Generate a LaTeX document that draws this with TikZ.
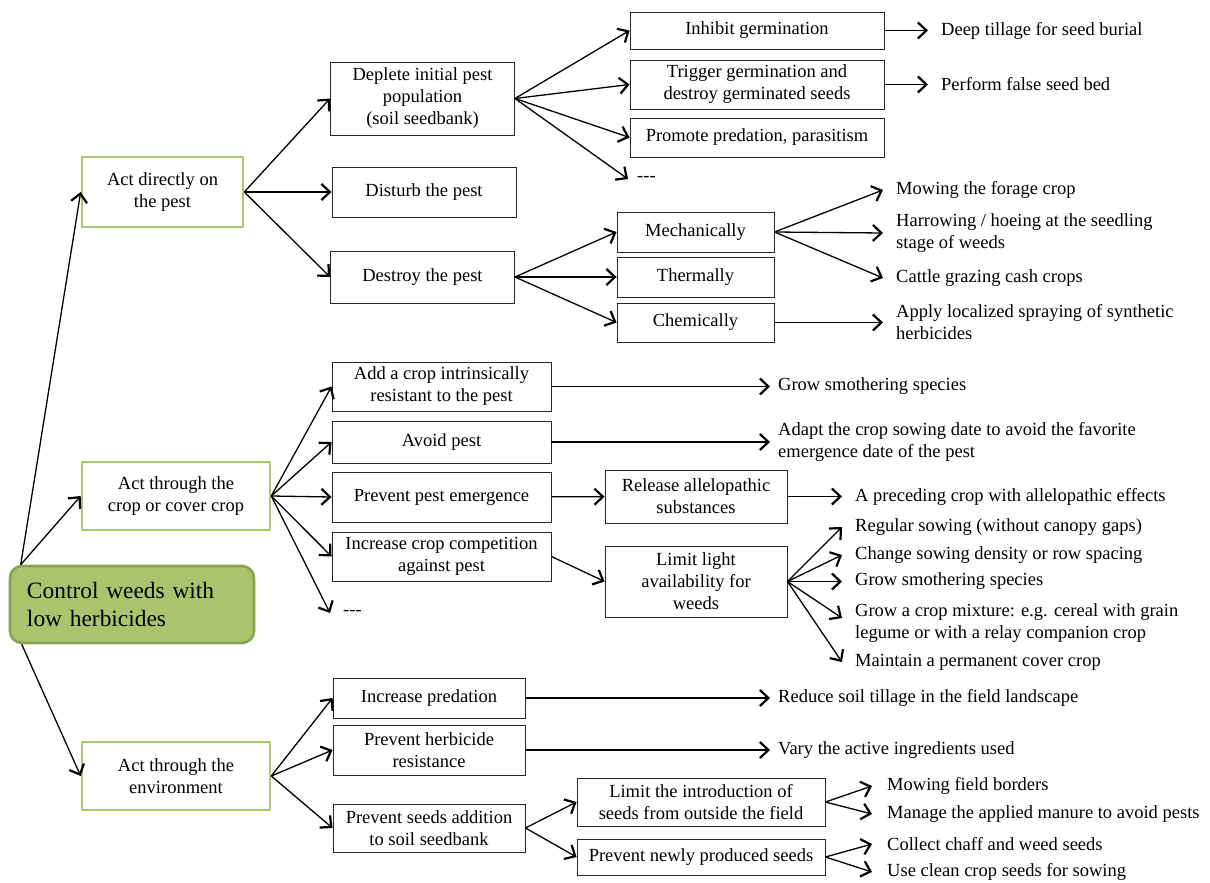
\documentclass[tikz,border=0pt]{standalone}
\usepackage{fontspec}
\setmainfont{Liberation Serif}
\usetikzlibrary{arrows.meta, positioning}
\definecolor{LeafFill}{RGB}{170,196,110}
\definecolor{LeafEdge}{RGB}{138,162,84}
\definecolor{LeafLine}{RGB}{172,200,112}

\begin{document}
\begin{tikzpicture}[
        x=1pt, y=-1pt,
        box/.style={
            rectangle,
            draw=black!85,
            line width=0.9pt,
            align=center,
            inner sep=2pt,
            font=\fontsize{18.5}{22}\selectfont
        },
        actbox/.style={
            box,
            draw=LeafLine,
            line width=2.6pt
        },
        rootbox/.style={
            rectangle,
            rounded corners=12pt,
            fill=LeafFill,
            draw=LeafEdge,
            line width=2.6pt,
            align=left,
            text width=210pt,
            inner xsep=17pt,
            minimum height=77pt,
            font=\fontsize{23.4}{28}\selectfont
        },
        leaf/.style={
            anchor=west,
            align=left,
            inner xsep=13pt,
            inner ysep=0pt,
            font=\fontsize{18.5}{22}\selectfont
        },
        arrow/.style={
            -{Straight Barb[length=8.5pt,width=16pt,line width=2.2pt]},
            line width=1.3pt
        }
    ]
        \useasboundingbox (0,0) rectangle (1210,883);

        % Root and main levers
        \node[rootbox] (root) at (132,604.5) {Control weeds with\\low herbicides};
        \node[actbox, minimum width=161pt, minimum height=70pt] (direct) at (162.5,192) {Act directly on\\the pest};
        \node[actbox, minimum width=188pt, minimum height=68pt] (crop) at (176,496) {Act through the\\crop or cover crop};
        \node[actbox, minimum width=188pt, minimum height=68pt] (env) at (176,776) {Act through the\\environment};

        % Act directly on the pest
        \node[box, minimum width=184pt, minimum height=73pt] (deplete) at (422.5,98.5) {Deplete initial pest\\population\\(soil seedbank)};
        \node[box, minimum width=184pt, minimum height=50pt] (disturb) at (424,192) {Disturb the pest};
        \node[box, minimum width=184pt, minimum height=52pt] (destroy) at (422.5,277) {Destroy the pest};

        \node[box, minimum width=254pt, minimum height=37pt] (inhibit) at (757,30.5) {Inhibit germination};
        \node[box, minimum width=254pt, minimum height=49pt] (trigger) at (757,84.5) {Trigger germination and\\destroy germinated seeds};
        \node[box, minimum width=254pt, minimum height=39pt] (predation) at (757,137.5) {Promote predation, parasitism};
        \node[leaf, inner xsep=9pt] (moreA) at (628,179) {-{}-{}-};
        \node[leaf] (tillage) at (928,30.5) {Deep tillage for seed burial};
        \node[leaf] (falsebed) at (928,84.5) {Perform false seed bed};

        \node[box, minimum width=157pt, minimum height=40pt] (mech) at (695.5,232) {Mechanically};
        \node[box, minimum width=157pt, minimum height=40pt] (therm) at (695.5,277) {Thermally};
        \node[box, minimum width=157pt, minimum height=39pt] (chem) at (695.5,322.5) {Chemically};
        \node[leaf] (mowing) at (883,190) {Mowing the forage crop};
        \node[leaf] (harrow) at (883,233) {Harrowing / hoeing at the seedling\\stage of weeds};
        \node[leaf] (cattle) at (883,278) {Cattle grazing cash crops};
        \node[leaf] (spray) at (883,322.5) {Apply localized spraying of synthetic\\herbicides};

        % Act through the crop or cover crop
        \node[box, minimum width=219pt, minimum height=49pt] (resist) at (441.5,386.5) {Add a crop intrinsically\\resistant to the pest};
        \node[box, minimum width=219pt, minimum height=42pt] (avoid) at (441.5,442) {Avoid pest};
        \node[box, minimum width=219pt, minimum height=50pt] (emerge) at (441.5,497) {Prevent pest emergence};
        \node[box, minimum width=219pt, minimum height=49pt] (compete) at (441.5,556.5) {Increase crop competition\\against pest};
        \node[leaf] (moreB) at (330,613) {-{}-{}-};
        \node[leaf, inner xsep=8pt] (smother) at (770,386.5) {Grow smothering species};
        \node[leaf, inner xsep=8pt] (sowdate) at (770,442) {Adapt the crop sowing date to avoid the favorite\\emergence date of the pest};

        \node[box, minimum width=182pt, minimum height=53pt] (allelo) at (696,496.5) {Release allelopathic\\substances};
        \node[box, minimum width=182pt, minimum height=71pt] (light) at (696,581.5) {Limit light\\availability for\\weeds};
        \node[leaf] (preceding) at (842,496.5) {A preceding crop with allelopathic effects};
        \node[leaf] (regular) at (842,527) {Regular sowing (without canopy gaps)};
        \node[leaf] (density) at (842,555) {Change sowing density or row spacing};
        \node[leaf] (smothertwo) at (842,581.5) {Grow smothering species};
        \node[leaf] (mixture) at (842,623) {Grow a crop mixture: e.g. cereal with grain\\legume or with a relay companion crop};
        \node[leaf] (cover) at (842,662) {Maintain a permanent cover crop};

        % Act through the environment
        \node[box, minimum width=192pt, minimum height=40pt] (increase) at (429,698) {Increase predation};
        \node[box, minimum width=192pt, minimum height=50pt] (herbres) at (429,750) {Prevent herbicide\\resistance};
        \node[box, minimum width=192pt, minimum height=48pt] (seeds) at (429,828) {Prevent seeds addition\\to soil seedbank};
        \node[leaf, inner xsep=8pt] (lowtill) at (770,698) {Reduce soil tillage in the field landscape};
        \node[leaf, inner xsep=8pt] (ingred) at (770,750) {Vary the active ingredients used};

        \node[box, minimum width=248pt, minimum height=48pt] (outside) at (701,802) {Limit the introduction of\\seeds from outside the field};
        \node[box, minimum width=248pt, minimum height=36pt] (newseeds) at (701,857) {Prevent newly produced seeds};
        \node[leaf, inner xsep=15pt] (borders) at (872,786) {Mowing field borders};
        \node[leaf, inner xsep=15pt] (manure) at (872,814) {Manage the applied manure to avoid pests};
        \node[leaf, inner xsep=15pt] (chaff) at (872,844) {Collect chaff and weed seeds};
        \node[leaf, inner xsep=15pt] (clean) at (872,872) {Use clean crop seeds for sowing};

        % Paths
        \draw[arrow] ([xshift=12pt]root.north west) -- (direct.west);
        \draw[arrow] ([xshift=12pt]root.north west) -- (crop.west);
        \draw[arrow] ([xshift=13pt]root.south west) -- (env.west);

        \draw[arrow] (direct.east) -- (deplete.west);
        \draw[arrow] (direct.east) -- (disturb.west);
        \draw[arrow] (direct.east) -- (destroy.west);
        \draw[arrow] (deplete.east) -- (inhibit.west);
        \draw[arrow] (deplete.east) -- (trigger.west);
        \draw[arrow] (deplete.east) -- (predation.west);
        \draw[arrow] (deplete.east) -- (moreA.west);
        \draw[arrow] (inhibit) -- (tillage);
        \draw[arrow] (trigger) -- (falsebed);
        \draw[arrow] (destroy.east) -- (mech.west);
        \draw[arrow] (destroy.east) -- (therm.west);
        \draw[arrow] (destroy.east) -- (chem.west);
        \draw[arrow] (mech.east) -- (mowing.west);
        \draw[arrow] (mech.east) -- (harrow.west);
        \draw[arrow] (mech.east) -- (cattle.west);
        \draw[arrow] (chem.east) -- (spray.west);

        \draw[arrow] (crop.east) -- (resist.west);
        \draw[arrow] (crop.east) -- (avoid.west);
        \draw[arrow] (crop.east) -- (emerge.west);
        \draw[arrow] (crop.east) -- (compete.west);
        \draw[arrow] (crop.east) -- (moreB.west);
        \draw[arrow] (resist.east) -- (smother.west);
        \draw[arrow] (avoid.east) -- (sowdate.west);
        \draw[arrow] (emerge) -- (allelo);
        \draw[arrow] (compete.east) -- (light.west);
        \draw[arrow] (allelo.east) -- (preceding.west);
        \draw[arrow] (light.east) -- (regular.west);
        \draw[arrow] (light.east) -- (density.west);
        \draw[arrow] (light.east) -- (smothertwo.west);
        \draw[arrow] (light.east) -- ([yshift=5pt]mixture.west);
        \draw[arrow] (light.east) -- (cover.west);

        \draw[arrow] (env.east) -- (increase.west);
        \draw[arrow] (env.east) -- (herbres.west);
        \draw[arrow] (env.east) -- (seeds.west);
        \draw[arrow] (increase.east) -- (lowtill.west);
        \draw[arrow] (herbres.east) -- (ingred.west);
        \draw[arrow] (seeds.east) -- (outside.west);
        \draw[arrow] (seeds.east) -- (newseeds.west);
        \draw[arrow] (outside.east) -- (borders.west);
        \draw[arrow] (outside.east) -- (manure.west);
        \draw[arrow] (newseeds.east) -- (chaff.west);
        \draw[arrow] (newseeds.east) -- (clean.west);
    \end{tikzpicture}
\end{document}
